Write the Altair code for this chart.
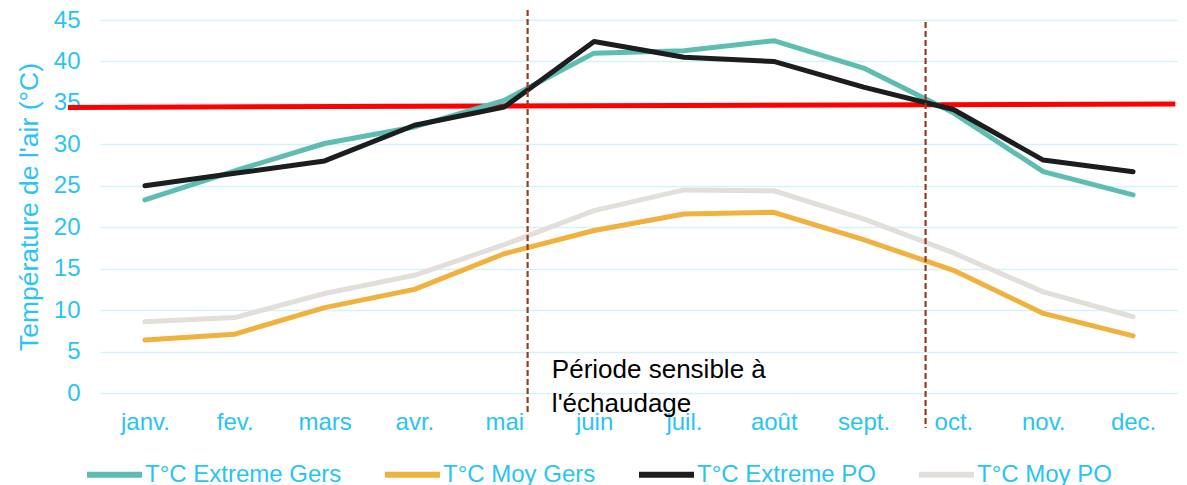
import json
import altair as alt
import pandas as pd

months = ["janv.", "fev.", "mars", "avr.", "mai", "juin", "juil.", "août", "sept.", "oct.", "nov.", "dec."]
series_names = ["T°C Extreme Gers", "T°C Moy Gers", "T°C Extreme PO", "T°C Moy PO"]
extreme_gers = [23.3, 26.8, 30.1, 32.1, 35.3, 41.0, 41.3, 42.5, 39.2, 33.8, 26.7, 23.9]
moy_gers = [6.4, 7.1, 10.3, 12.5, 16.8, 19.6, 21.6, 21.8, 18.5, 14.8, 9.6, 6.9]
extreme_po = [25.0, 26.5, 28.0, 32.3, 34.5, 42.4, 40.5, 40.0, 36.9, 34.2, 28.1, 26.7]
moy_po = [8.6, 9.1, 12.0, 14.2, 17.9, 22.0, 24.5, 24.4, 21.0, 16.9, 12.2, 9.2]
series_colors = ["#5DBDB0", "#F0B13F", "#1B1D1F", "#E2DFDB"]

# threshold line (slightly tilted, as drawn in the original)
threshold_x = [0.144, 12.47]
threshold_y = [34.45, 34.87]

# sensitive-period markers
period_x = [5.26, 9.69]
period_top = [46.2, 44.75]
period_bottom = [-2.65, -4.22]

annotation_text = ["Période sensible à", "l'échaudage"]
annotation_x = [5.53]
annotation_y = [1.77]

AXIS_BLUE = "#2AC3F5"
FONT = "Liberation Sans"

rows = []
for name, vals in zip(series_names, [extreme_gers, moy_gers, extreme_po, moy_po]):
    for i, v in enumerate(vals):
        rows.append({"serie": name, "mois": i + 1, "temp": v})
df = pd.DataFrame(rows)

x_scale = alt.Scale(domain=[0.5, 12.5], nice=False, zero=False)
y_scale = alt.Scale(domain=[0, 45], nice=False)

label_expr = json.dumps(months, ensure_ascii=False) + "[datum.value - 1]"

base_x_axis = alt.Axis(
    values=list(range(1, 13)), labelExpr=label_expr, title=None, grid=False,
    domain=False, ticks=False, labelColor=AXIS_BLUE, labelFontSize=24,
    labelFont=FONT, labelPadding=17, labelBaseline="top"
)
y_axis = alt.Axis(
    values=list(range(0, 50, 5)), title="Température de l'air (°C)", grid=True,
    gridColor="#D5F1FB", gridWidth=1.5, domain=False, ticks=False,
    labelColor=AXIS_BLUE, labelFontSize=24, labelFont=FONT, labelPadding=20,
    titleColor=AXIS_BLUE, titleFontSize=26.5, titleFont=FONT, titleFontWeight="normal",
    titlePadding=10
)

thr_df = pd.DataFrame({"x": threshold_x, "y": threshold_y})
red = alt.Chart(thr_df).mark_line(color="#FF0000", strokeWidth=5).encode(
    x=alt.X("x:Q", scale=x_scale, axis=base_x_axis),
    y=alt.Y("y:Q", scale=y_scale, axis=y_axis),
)

lines = alt.Chart(df).mark_line(strokeWidth=5, strokeCap="round", strokeJoin="round").encode(
    x=alt.X("mois:Q", scale=x_scale, axis=base_x_axis),
    y=alt.Y("temp:Q", scale=y_scale, axis=y_axis),
    color=alt.Color(
        "serie:N",
        scale=alt.Scale(domain=series_names, range=series_colors),
        sort=series_names,
        legend=alt.Legend(
            title=None, orient="none", direction="horizontal", legendX=-16, legendY=424,
            symbolType="stroke", symbolSize=3025, symbolStrokeWidth=6,
            labelFontSize=24, labelFont=FONT, labelColor=AXIS_BLUE, labelOffset=0,
            columnPadding=31, labelLimit=0, padding=0,
        ),
    ),
    order=alt.Order("mois:Q"),
)

per_df = pd.DataFrame({"x": period_x, "y": period_top, "y2": period_bottom})
rules = alt.Chart(per_df).mark_rule(color="#9B3B1C", strokeWidth=2.2, strokeDash=[6, 3]).encode(
    x=alt.X("x:Q", scale=x_scale),
    y=alt.Y("y:Q", scale=y_scale),
    y2="y2:Q",
)

ann_df = pd.DataFrame({"x": annotation_x, "y": annotation_y, "t": [annotation_text]})
ann = alt.Chart(ann_df).mark_text(
    align="left", baseline="alphabetic", fontSize=26, font=FONT, color="#000000", lineHeight=33.4
).encode(
    x=alt.X("x:Q", scale=x_scale),
    y=alt.Y("y:Q", scale=y_scale),
    text="t",
)

chart = alt.layer(red, lines, rules, ann).properties(
    width=1078, height=373,
    autosize=alt.AutoSizeParams(type="none"),
    padding={"left": 92, "top": 12, "right": 0, "bottom": 92},
).configure_view(stroke=None)

chart.save("out.html", embed_options={"renderer": "svg", "actions": False})
